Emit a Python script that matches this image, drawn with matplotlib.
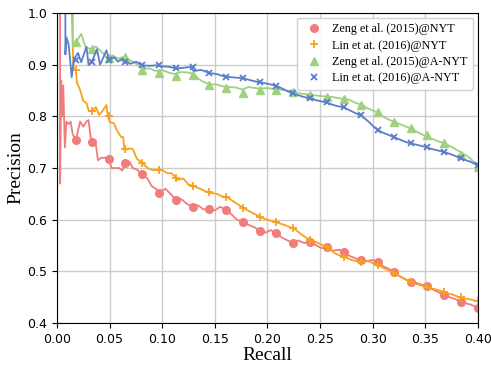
import matplotlib
matplotlib.use("Agg")
import matplotlib.pyplot as plt

# --- PR curves (line points) ---
zeng_nyt_r = [0.003, 0.003, 0.004, 0.005, 0.006, 0.0075, 0.009, 0.011, 0.013, 0.015, 0.018, 0.022, 0.025,
              0.028, 0.030, 0.032, 0.034, 0.037, 0.039, 0.042, 0.046, 0.049, 0.052, 0.055, 0.059, 0.062,
              0.065, 0.069, 0.072, 0.076, 0.081, 0.086, 0.090, 0.094, 0.097, 0.103, 0.108, 0.113, 0.118,
              0.124, 0.129, 0.134, 0.139, 0.144, 0.150, 0.155, 0.161, 0.166, 0.171, 0.177, 0.182, 0.188,
              0.193, 0.198, 0.203, 0.208, 0.214, 0.219, 0.224, 0.229, 0.235, 0.240, 0.245, 0.251, 0.257,
              0.262, 0.268, 0.273, 0.278, 0.284, 0.289, 0.294, 0.300, 0.305, 0.310, 0.315, 0.320, 0.326,
              0.331, 0.336, 0.341, 0.347, 0.352, 0.357, 0.362, 0.368, 0.373, 0.379, 0.384, 0.389, 0.394, 0.400]
zeng_nyt_p = [1.0, 0.67, 0.87, 0.80, 0.86, 0.74, 0.79, 0.785, 0.79, 0.765, 0.755, 0.79, 0.78,
              0.79, 0.793, 0.76, 0.75, 0.745, 0.715, 0.72, 0.72, 0.717, 0.70, 0.70, 0.70, 0.695,
              0.71, 0.712, 0.70, 0.697, 0.688, 0.68, 0.665, 0.66, 0.652, 0.66, 0.65, 0.638, 0.64,
              0.63, 0.625, 0.628, 0.62, 0.621, 0.618, 0.625, 0.619, 0.61, 0.60, 0.596, 0.59, 0.585,
              0.578, 0.575, 0.58, 0.574, 0.565, 0.56, 0.555, 0.56, 0.555, 0.557, 0.552, 0.545, 0.547,
              0.54, 0.542, 0.537, 0.53, 0.525, 0.522, 0.52, 0.522, 0.518, 0.51, 0.505, 0.499, 0.49,
              0.485, 0.479, 0.478, 0.474, 0.472, 0.465, 0.46, 0.454, 0.45, 0.446, 0.441, 0.438, 0.435, 0.429]

lin_nyt_r = [0.015, 0.015, 0.016, 0.018, 0.019, 0.022, 0.025, 0.028, 0.030, 0.033, 0.037, 0.040, 0.043,
             0.047, 0.048, 0.050, 0.054, 0.057, 0.061, 0.063, 0.064, 0.069, 0.072, 0.076, 0.081, 0.086,
             0.091, 0.100, 0.105, 0.109, 0.115, 0.120, 0.125, 0.130, 0.136, 0.141, 0.146, 0.152, 0.157,
             0.162, 0.168, 0.173, 0.178, 0.184, 0.189, 0.194, 0.200, 0.205, 0.210, 0.216, 0.221, 0.226,
             0.232, 0.237, 0.242, 0.248, 0.253, 0.258, 0.264, 0.269, 0.274, 0.280, 0.285, 0.290, 0.296,
             0.301, 0.306, 0.312, 0.317, 0.322, 0.328, 0.333, 0.338, 0.344, 0.349, 0.354, 0.360, 0.365,
             0.370, 0.376, 0.381, 0.386, 0.392, 0.400]
lin_nyt_p = [1.0, 0.93, 0.89, 0.89, 0.865, 0.851, 0.83, 0.826, 0.812, 0.81, 0.818, 0.803, 0.81,
             0.822, 0.806, 0.789, 0.787, 0.773, 0.76, 0.76, 0.735, 0.738, 0.737, 0.718, 0.71, 0.70,
             0.696, 0.696, 0.69, 0.69, 0.677, 0.68, 0.668, 0.665, 0.66, 0.655, 0.652, 0.65, 0.645,
             0.643, 0.635, 0.628, 0.622, 0.615, 0.61, 0.604, 0.60, 0.597, 0.594, 0.59, 0.586, 0.582,
             0.572, 0.565, 0.56, 0.555, 0.55, 0.545, 0.535, 0.53, 0.527, 0.522, 0.52, 0.518, 0.52,
             0.515, 0.511, 0.505, 0.50, 0.495, 0.488, 0.482, 0.478, 0.474, 0.471, 0.468, 0.465, 0.462,
             0.458, 0.455, 0.451, 0.448, 0.446, 0.442]

zeng_anyt_r = [0.014, 0.015, 0.018, 0.023, 0.027, 0.032, 0.037, 0.044, 0.048, 0.053, 0.058, 0.063, 0.068,
               0.073, 0.078, 0.082, 0.088, 0.094, 0.100, 0.106, 0.112, 0.118, 0.125, 0.130, 0.135, 0.140,
               0.146, 0.152, 0.158, 0.164, 0.170, 0.176, 0.182, 0.188, 0.194, 0.200, 0.206, 0.212, 0.218,
               0.224, 0.230, 0.236, 0.242, 0.248, 0.254, 0.260, 0.266, 0.272, 0.278, 0.284, 0.290, 0.296,
               0.302, 0.308, 0.314, 0.320, 0.326, 0.332, 0.338, 0.344, 0.350, 0.356, 0.362, 0.368, 0.374,
               0.380, 0.386, 0.392, 0.396, 0.400]
zeng_anyt_p = [1.0, 0.94, 0.943, 0.96, 0.935, 0.93, 0.935, 0.922, 0.913, 0.918, 0.912, 0.915, 0.91,
               0.905, 0.898, 0.892, 0.893, 0.888, 0.89, 0.885, 0.882, 0.886, 0.885, 0.882, 0.872, 0.866,
               0.862, 0.862, 0.858, 0.857, 0.856, 0.852, 0.857, 0.855, 0.854, 0.855, 0.853, 0.852, 0.85,
               0.849, 0.845, 0.843, 0.842, 0.84, 0.839, 0.838, 0.836, 0.834, 0.832, 0.826, 0.822, 0.815,
               0.81, 0.802, 0.795, 0.79, 0.785, 0.78, 0.775, 0.768, 0.762, 0.757, 0.752, 0.748, 0.742,
               0.735, 0.728, 0.72, 0.712, 0.702]

lin_anyt_r = [0.008, 0.008, 0.009, 0.011, 0.012, 0.014, 0.016, 0.020, 0.023, 0.028, 0.030, 0.034, 0.038,
              0.041, 0.047, 0.050, 0.054, 0.058, 0.062, 0.066, 0.070, 0.075, 0.081, 0.088, 0.094, 0.100,
              0.107, 0.113, 0.120, 0.127, 0.130, 0.137, 0.145, 0.152, 0.158, 0.165, 0.171, 0.177, 0.184,
              0.190, 0.196, 0.203, 0.210, 0.216, 0.222, 0.228, 0.234, 0.240, 0.247, 0.254, 0.260, 0.266,
              0.272, 0.278, 0.284, 0.290, 0.296, 0.302, 0.308, 0.314, 0.320, 0.326, 0.332, 0.338, 0.344,
              0.350, 0.356, 0.362, 0.368, 0.374, 0.380, 0.386, 0.392, 0.400]
lin_anyt_p = [1.0, 0.92, 0.953, 0.94, 0.92, 0.876, 0.91, 0.923, 0.905, 0.935, 0.90, 0.91, 0.93,
              0.90, 0.928, 0.908, 0.915, 0.906, 0.912, 0.905, 0.902, 0.906, 0.899, 0.898, 0.899, 0.897,
              0.896, 0.893, 0.894, 0.896, 0.888, 0.89, 0.884, 0.882, 0.878, 0.876, 0.875, 0.874, 0.87,
              0.867, 0.865, 0.862, 0.858, 0.852, 0.846, 0.842, 0.838, 0.835, 0.831, 0.828, 0.824, 0.82,
              0.818, 0.812, 0.806, 0.80, 0.79, 0.778, 0.77, 0.765, 0.76, 0.755, 0.75, 0.747, 0.744,
              0.741, 0.737, 0.734, 0.731, 0.727, 0.722, 0.717, 0.713, 0.705]

# --- marker positions ---
mark_r = [0.018, 0.033, 0.049, 0.065, 0.081, 0.097, 0.113, 0.129, 0.144, 0.161, 0.177, 0.193, 0.208,
          0.224, 0.240, 0.257, 0.273, 0.289, 0.305, 0.320, 0.336, 0.352, 0.368, 0.384, 0.400]
zeng_nyt_mark = [0.755, 0.75, 0.717, 0.71, 0.688, 0.652, 0.638, 0.625, 0.621, 0.619, 0.596, 0.578, 0.574,
                 0.555, 0.557, 0.547, 0.537, 0.522, 0.518, 0.499, 0.479, 0.472, 0.454, 0.441, 0.429]
lin_nyt_mark = [0.89, 0.81, 0.80, 0.737, 0.71, 0.697, 0.68, 0.665, 0.653, 0.644, 0.623, 0.605, 0.595,
                0.584, 0.561, 0.547, 0.528, 0.518, 0.512, 0.497, 0.479, 0.470, 0.46, 0.45, 0.443]
zeng_anyt_mark = [0.945, 0.93, 0.913, 0.915, 0.89, 0.884, 0.878, 0.88, 0.861, 0.855, 0.845, 0.851, 0.851,
                  0.847, 0.841, 0.837, 0.833, 0.822, 0.808, 0.789, 0.777, 0.764, 0.748, 0.725, 0.702]
lin_anyt_mark = [0.91, 0.905, 0.91, 0.905, 0.899, 0.899, 0.893, 0.895, 0.884, 0.876, 0.874, 0.866, 0.859,
                 0.845, 0.835, 0.828, 0.818, 0.803, 0.774, 0.760, 0.748, 0.741, 0.731, 0.719, 0.706]

series = [
    ("Zeng et al. (2015)@NYT", zeng_nyt_r, zeng_nyt_p, zeng_nyt_mark, "#f07c7c", "o", 5.5, 1.0),
    ("Lin et at. (2016)@NYT", lin_nyt_r, lin_nyt_p, lin_nyt_mark, "#f9a11b", "+", 6, 1.3),
    ("Zeng et al. (2015)@A-NYT", zeng_anyt_r, zeng_anyt_p, zeng_anyt_mark, "#9fd180", "^", 5.5, 1.0),
    ("Lin et at. (2016)@A-NYT", lin_anyt_r, lin_anyt_p, lin_anyt_mark, "#5a7fc8", "x", 5, 1.3),
]

fig = plt.figure(figsize=(4.91, 3.65), dpi=100)
ax = fig.add_axes([0.116, 0.115, 0.8575, 0.849])

for label, r, p, mk, color, marker, ms, mew in series:
    ax.plot(r, p, color=color, lw=1.3)
    ax.plot(mark_r, mk, color=color, marker=marker, ms=ms, mew=mew, linestyle="none", label=label)

ax.set_xlim(0, 0.4)
ax.set_ylim(0.4, 1.0)
ax.set_xticks([0.0, 0.05, 0.1, 0.15, 0.2, 0.25, 0.3, 0.35, 0.4])
ax.set_xticklabels(["0.00", "0.05", "0.10", "0.15", "0.20", "0.25", "0.30", "0.35", "0.40"])
ax.set_yticks([0.4, 0.5, 0.6, 0.7, 0.8, 0.9, 1.0])
ax.set_yticklabels(["0.4", "0.5", "0.6", "0.7", "0.8", "0.9", "1.0"])
ax.tick_params(labelsize=9, length=3.5)
ax.grid(True, color="#cccccc", lw=1)
ax.set_axisbelow(True)

ax.set_xlabel("Recall", family="Liberation Serif", fontsize=14, labelpad=1)
ax.set_ylabel("Precision", family="Liberation Serif", fontsize=14, labelpad=2)

ax.legend(loc="upper right", prop={"family": "Liberation Serif", "size": 8.7},
          handletextpad=0.5, borderpad=0.45, labelspacing=0.35, framealpha=0.9,
          borderaxespad=0.4)

fig.savefig("out.png", dpi=100)
